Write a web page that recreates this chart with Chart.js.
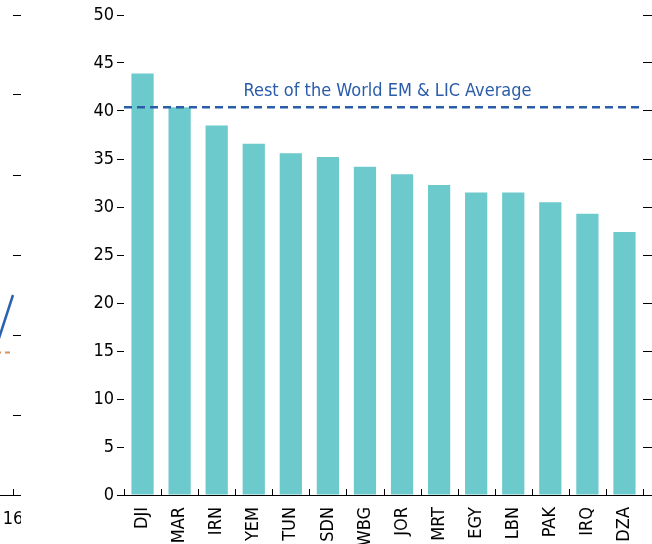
<!DOCTYPE html>
<html>
<head>
<meta charset="utf-8">
<script src="https://cdn.jsdelivr.net/npm/chart.js@4.4.1/dist/chart.umd.min.js"></script>
<style>
  html, body { margin: 0; padding: 0; background: #fff; overflow: hidden; }
  #wrap { position: relative; width: 652px; height: 544px; }
  #mainBox { position: absolute; left: 0; top: 0; width: 652px; height: 544px; }
  #leftBox { position: absolute; left: -13px; top: 0; width: 34px; height: 544px; }
</style>
</head>
<body>
<div id="wrap">
  <div id="leftBox"><canvas id="leftChart"></canvas></div>
  <div id="mainBox"><canvas id="mainChart"></canvas></div>
</div>
<script>
// main panel
const countries = ['DJI', 'MAR', 'IRN', 'YEM', 'TUN', 'SDN', 'WBG', 'JOR', 'MRT', 'EGY', 'LBN', 'PAK', 'IRQ', 'DZA'];
const values = [43.9, 40.4, 38.5, 36.6, 35.6, 35.2, 34.2, 33.4, 32.3, 31.5, 31.5, 30.5, 29.3, 27.4];
const restOfWorldAvg = 40.4;
const avgLabel = 'Rest of the World EM & LIC Average';

// fragment of the neighbouring panel on the left
const leftLabels = ['15', '16'];
const leftBlue = [1.5, 2.5];
const leftOrange = [1.78, 1.78];

const FONT = '"Liberation Sans Narrow", "Arial Narrow", "DejaVu Sans Condensed", sans-serif';

// small tick marks pointing up from the x axis line
const upTicks = {
    id: 'upTicks',
    afterDraw(chart, args, opts) {
        const x = chart.scales.x;
        const ctx = chart.ctx;
        const base = chart.chartArea.bottom;
        ctx.save();
        ctx.strokeStyle = '#000';
        ctx.lineWidth = 1;
        ctx.beginPath();
        const n = chart.data.labels.length;
        if (opts.boundaries) {
            for (let i = 0; i <= n; i++) {
                const px = Math.round(x.getPixelForValue(i - 0.5)) + 0.5;
                ctx.moveTo(px, base);
                ctx.lineTo(px, base - 6);
            }
        } else {
            const px = Math.round(x.getPixelForValue(n - 1)) + 0.5;
            ctx.moveTo(px, base);
            ctx.lineTo(px, base - 6);
        }
        ctx.stroke();
        ctx.restore();
    }
};

const avgLine = {
    id: 'avgLine',
    afterDatasetsDraw(chart) {
        const y = chart.scales.y;
        const area = chart.chartArea;
        const ctx = chart.ctx;
        const py = y.getPixelForValue(restOfWorldAvg);
        ctx.save();
        ctx.strokeStyle = '#2a5caa';
        ctx.lineWidth = 2.5;
        ctx.setLineDash([8, 5]);
        ctx.beginPath();
        ctx.moveTo(area.left, py);
        ctx.lineTo(area.right, py);
        ctx.stroke();
        ctx.setLineDash([]);
        ctx.fillStyle = '#2a5caa';
        ctx.font = '18px ' + FONT;
        ctx.textAlign = 'center';
        ctx.textBaseline = 'bottom';
        ctx.fillText(avgLabel, (area.left + area.right) / 2 + 4, py - 7);
        ctx.restore();
    }
};

new Chart(document.getElementById('mainChart').getContext('2d'), {
    type: 'bar',
    data: {
        labels: countries,
        datasets: [{
            data: values,
            backgroundColor: '#6dcacc',
            borderWidth: 0,
            barPercentage: 0.6,
            categoryPercentage: 1.0
        }]
    },
    options: {
        responsive: true,
        maintainAspectRatio: false,
        animation: false,
        layout: { padding: { top: 15, left: 0, right: 0, bottom: 0 } },
        plugins: {
            legend: { display: false },
            tooltip: { enabled: false },
            upTicks: { boundaries: true }
        },
        scales: {
            x: {
                grid: { display: false },
                border: { display: true, color: '#000', width: 1 },
                ticks: {
                    color: '#000',
                    font: { family: FONT, size: 18 },
                    minRotation: 90,
                    maxRotation: 90,
                    autoSkip: false,
                    padding: 4
                },
                afterFit(scale) {
                    scale.paddingLeft = 0;
                    scale.paddingRight = 0;
                    scale.height = 49;
                }
            },
            y: {
                position: 'left',
                min: 0,
                max: 50,
                grid: { drawOnChartArea: false, tickLength: 7, color: '#000' },
                border: { display: false },
                ticks: {
                    stepSize: 5,
                    color: '#000',
                    font: { family: FONT, size: 18 },
                    padding: 3
                },
                afterFit(scale) {
                    scale.paddingTop = 0;
                    scale.paddingBottom = 0;
                    scale.width = 124;
                }
            },
            y2: {
                position: 'right',
                min: 0,
                max: 50,
                grid: { drawOnChartArea: false, tickLength: 9, color: '#000' },
                border: { display: false },
                ticks: { stepSize: 5, display: false },
                afterFit(scale) {
                    scale.paddingTop = 0;
                    scale.paddingBottom = 0;
                    scale.width = 9;
                }
            }
        }
    },
    plugins: [upTicks, avgLine]
});

new Chart(document.getElementById('leftChart').getContext('2d'), {
    type: 'line',
    data: {
        labels: leftLabels,
        datasets: [
            { data: leftBlue, borderColor: '#2b62b0', borderWidth: 2.5, pointRadius: 0, fill: false },
            { data: leftOrange, borderColor: '#d4955a', borderWidth: 2, borderDash: [5, 4], pointRadius: 0, fill: false }
        ]
    },
    options: {
        responsive: true,
        maintainAspectRatio: false,
        animation: false,
        layout: { padding: { top: 15, left: 0, right: 0, bottom: 0 } },
        plugins: {
            legend: { display: false },
            tooltip: { enabled: false },
            upTicks: { boundaries: false }
        },
        scales: {
            x: {
                offset: false,
                grid: { display: false },
                border: { display: true, color: '#000', width: 1 },
                ticks: {
                    color: '#000',
                    font: { family: FONT, size: 18 },
                    maxRotation: 0,
                    autoSkip: false,
                    padding: 6
                },
                afterFit(scale) {
                    scale.paddingLeft = 0;
                    scale.paddingRight = 0;
                    scale.height = 49;
                }
            },
            y: {
                position: 'right',
                min: 0,
                max: 6,
                grid: { drawOnChartArea: false, tickLength: 8, color: '#000' },
                border: { display: false },
                ticks: { stepSize: 1, display: false },
                afterFit(scale) {
                    scale.paddingTop = 0;
                    scale.paddingBottom = 0;
                    scale.width = 8;
                }
            }
        }
    },
    plugins: [upTicks]
});
</script>
</body>
</html>
